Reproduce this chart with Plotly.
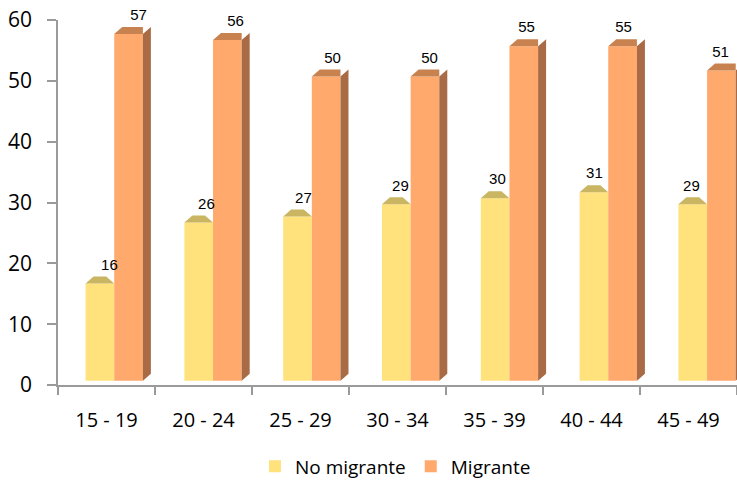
import plotly.graph_objects as go

# Age groups and share (%) per group
groups = ["15 - 19", "20 - 24", "25 - 29", "30 - 34", "35 - 39", "40 - 44", "45 - 49"]
no_migrante = [16, 26, 27, 29, 30, 31, 29]
migrante = [57, 56, 50, 50, 55, 55, 51]
y_ticks = [0, 10, 20, 30, 40, 50, 60]

# Colours of the faces of the pseudo-3D columns
YELLOW_FRONT = "#FFE27C"
YELLOW_TOP = "#C9B562"
ORANGE_FRONT = "#FFA96C"
ORANGE_TOP = "#C8824F"
ORANGE_SIDE = "#A86B45"
AXIS_COLOR = "#9A9A9A"

# Column geometry in the units of the hidden column axes (x / y)
BAR_W = 0.29
DEPTH_X = 0.081
DEPTH_Y = 1.15
FLOOR = 0.7
LABEL_GAP = 0.5

pos = list(range(len(groups)))


def top_face(values, left_shift, right_depth):
    xs, ys = [], []
    for i, v in zip(pos, values):
        xl = i + left_shift
        xr = xl + BAR_W
        xs += [xl, xl + DEPTH_X, xr + right_depth, xr, xl, None]
        ys += [v, v + DEPTH_Y, v + DEPTH_Y, v, v, None]
    return xs, ys


def side_face(values, left_shift):
    xs, ys = [], []
    for i, v in zip(pos, values):
        xr = i + left_shift + BAR_W
        xs += [xr, xr + DEPTH_X, xr + DEPTH_X, xr, xr, None]
        ys += [0, DEPTH_Y, v + DEPTH_Y, v, 0, None]
    return xs, ys


fig = go.Figure()

# Front faces
fig.add_trace(go.Bar(
    x=pos, y=no_migrante, offset=-BAR_W, width=BAR_W, name="No migrante",
    marker=dict(color=YELLOW_FRONT, line=dict(width=0)),
    customdata=groups,
    hovertemplate="%{customdata}: %{y}<extra>No migrante</extra>",
))
fig.add_trace(go.Bar(
    x=pos, y=migrante, offset=0, width=BAR_W, name="Migrante",
    marker=dict(color=ORANGE_FRONT, line=dict(width=0)),
    customdata=groups,
    hovertemplate="%{customdata}: %{y}<extra>Migrante</extra>",
))

# Top and side faces (yellow top is cut where the orange column covers it)
for (xs, ys), color in [
    (top_face(no_migrante, -BAR_W, -DEPTH_X), YELLOW_TOP),
    (top_face(migrante, 0, 0), ORANGE_TOP),
    (side_face(migrante, 0), ORANGE_SIDE),
]:
    fig.add_trace(go.Scatter(
        x=xs, y=ys, mode="lines", fill="toself", fillcolor=color,
        line=dict(width=0, color=color), hoverinfo="skip", showlegend=False,
    ))

# Value labels above each column, on the visible category axes (drawn on top)
label_x = [i + 0.03 for i in pos] + [i + 0.33 for i in pos]
label_y = ([v + FLOOR + DEPTH_Y + LABEL_GAP for v in no_migrante]
           + [v + FLOOR + DEPTH_Y + LABEL_GAP for v in migrante])
label_t = [str(v) for v in no_migrante] + [str(v) for v in migrante]
fig.add_trace(go.Scatter(
    x=label_x, y=label_y, text=label_t, mode="text", textposition="top center",
    textfont=dict(family="Liberation Sans, Arial", size=15, color="#000000"),
    hoverinfo="skip", showlegend=False, cliponaxis=False,
    xaxis="x2", yaxis="y2",
))

fig.update_layout(
    width=737, height=481,
    margin=dict(l=58, r=0, t=20, b=96, autoexpand=False),
    paper_bgcolor="white", plot_bgcolor="white",
    barmode="overlay",
    font=dict(family="Open Sans, Lato, sans-serif", color="#000000"),
    # hidden axes carrying the columns
    xaxis=dict(range=[-0.569, 6.303], visible=False, fixedrange=True),
    yaxis=dict(range=[-FLOOR, 60 - FLOOR], visible=False, fixedrange=True),
    # visible category / value axes
    xaxis2=dict(
        overlaying="x", anchor="y2", side="bottom",
        range=[-0.5, len(groups) - 0.5],
        tickmode="array", tickvals=pos, ticktext=groups, ticks="",
        tickfont=dict(size=20), ticklabelstandoff=16,
        showline=True, linecolor=AXIS_COLOR, linewidth=1.5,
        showgrid=False, zeroline=False, fixedrange=True,
        minor=dict(tickmode="array", tickvals=[k - 0.5 for k in range(len(groups) + 1)],
                   ticks="outside", ticklen=8, tickwidth=1.5, tickcolor=AXIS_COLOR,
                   showgrid=False),
    ),
    yaxis2=dict(
        overlaying="y", anchor="x2", side="left",
        range=[0, 60], tickmode="array", tickvals=y_ticks,
        ticks="outside", ticklen=9, tickwidth=1.5, tickcolor=AXIS_COLOR,
        tickfont=dict(size=21), ticklabelstandoff=11,
        showline=True, linecolor=AXIS_COLOR, linewidth=1.5,
        showgrid=False, zeroline=False, fixedrange=True,
    ),
    legend=dict(
        orientation="h", x=0.497, xanchor="center", y=-0.171, yanchor="top",
        font=dict(size=19), bgcolor="rgba(0,0,0,0)",
    ),
    showlegend=True,
)

fig.write_html("out.html")
